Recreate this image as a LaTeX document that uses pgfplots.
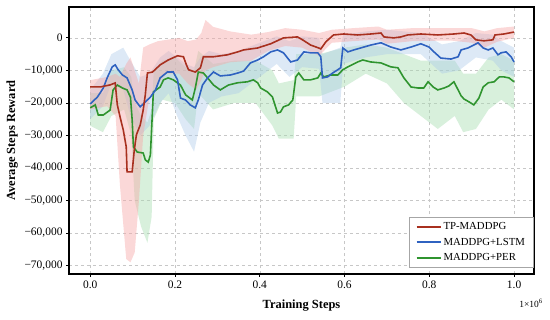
\documentclass[border=0pt]{standalone}
\usepackage{pgfplots}
\pgfplotsset{compat=1.18}
\usepackage{pgfplotstable}
\usepgfplotslibrary{fillbetween}
\usepackage{fontspec}
\setmainfont{Liberation Serif}
\definecolor{cred}{HTML}{A8301F}
\definecolor{cblue}{HTML}{2F62C0}
\definecolor{cgreen}{HTML}{2F942F}
\definecolor{bred}{HTML}{F7A8A8}
\definecolor{bblue}{HTML}{A9C9E8}
\definecolor{bgreen}{HTML}{A9DDB2}

\pgfplotstableread{
x y
0.000 -15080
0.024 -15080
0.047 -14460
0.059 -13850
0.064 -20600
0.071 -24600
0.078 -28300
0.085 -33500
0.087 -41200
0.099 -41200
0.104 -34500
0.109 -29800
0.118 -26800
0.125 -22200
0.130 -17500
0.135 -10800
0.147 -10500
0.165 -8300
0.184 -6800
0.206 -5500
0.220 -5800
0.227 -8300
0.232 -9800
0.248 -10500
0.260 -9200
0.267 -5800
0.291 -5800
0.324 -5200
0.348 -4300
0.362 -3700
0.395 -3100
0.426 -1800
0.456 0
0.489 300
0.501 -600
0.520 -2200
0.539 -3100
0.544 -3400
0.556 -1200
0.574 900
0.598 1200
0.631 900
0.662 1200
0.686 1500
0.693 300
0.716 0
0.733 300
0.749 900
0.780 1200
0.820 900
0.858 1200
0.882 1500
0.898 900
0.910 -600
0.929 -900
0.950 -600
0.955 900
0.976 1200
1.000 1800
}\linered

\pgfplotstableread{
x y
0.000 -20300
0.017 -18200
0.031 -15400
0.040 -12300
0.052 -8900
0.059 -8300
0.066 -9800
0.076 -11400
0.087 -12300
0.099 -16000
0.106 -19100
0.118 -21200
0.130 -19700
0.142 -18200
0.154 -16000
0.165 -12300
0.182 -10500
0.196 -10500
0.206 -12900
0.213 -18500
0.225 -19100
0.236 -20600
0.248 -21500
0.255 -19100
0.265 -14500
0.277 -12300
0.291 -10500
0.307 -11700
0.331 -11400
0.348 -10800
0.362 -10200
0.378 -7700
0.395 -6800
0.409 -5800
0.426 -4300
0.442 -3700
0.456 -4600
0.473 -7400
0.489 -6800
0.504 -4300
0.520 -4600
0.537 -4600
0.544 -5800
0.548 -12300
0.560 -12000
0.572 -10800
0.584 -9800
0.591 -9200
0.596 -3100
0.608 -4300
0.622 -3700
0.638 -3100
0.662 -2200
0.686 -1500
0.709 -2800
0.733 -3700
0.757 -2800
0.780 -1800
0.799 -2800
0.811 -4300
0.827 -6200
0.851 -6500
0.868 -5800
0.875 -3700
0.891 -3100
0.905 -2200
0.915 -1500
0.927 -3100
0.939 -3700
0.950 -3100
0.962 -5200
0.969 -4600
0.981 -4300
0.993 -5800
1.000 -7400
}\lineblue

\pgfplotstableread{
x y
0.000 -21500
0.012 -20600
0.019 -23700
0.031 -23700
0.047 -22200
0.054 -16000
0.064 -14500
0.076 -15400
0.087 -16000
0.095 -18200
0.099 -25200
0.102 -33500
0.111 -35100
0.125 -35400
0.130 -37500
0.137 -38200
0.142 -36000
0.147 -22200
0.149 -16600
0.165 -15100
0.173 -12900
0.184 -12300
0.196 -12900
0.213 -14500
0.225 -17500
0.241 -19100
0.248 -15400
0.255 -10500
0.267 -10800
0.277 -12300
0.291 -14500
0.307 -16000
0.326 -14500
0.348 -13800
0.371 -13500
0.385 -12900
0.395 -13800
0.402 -15400
0.418 -16600
0.430 -18200
0.442 -23100
0.449 -22800
0.456 -21200
0.468 -20600
0.478 -19100
0.485 -12000
0.492 -10800
0.504 -12900
0.520 -12900
0.537 -12300
0.544 -10800
0.551 -12000
0.567 -11400
0.584 -11400
0.596 -9800
0.608 -8900
0.631 -7400
0.643 -6800
0.662 -7400
0.686 -7700
0.709 -8900
0.726 -9200
0.740 -12300
0.757 -15100
0.773 -15400
0.787 -15400
0.797 -13500
0.809 -15100
0.820 -16000
0.835 -15400
0.846 -14800
0.858 -13500
0.868 -16000
0.875 -17800
0.882 -18800
0.894 -19700
0.905 -20600
0.917 -18500
0.927 -15100
0.939 -13800
0.953 -13500
0.965 -12000
0.976 -12000
0.988 -12300
1.000 -13500
}\linegreen

\pgfplotstableread{
x hi lo
0.000 -13000 -22000
0.040 -12000 -21000
0.060 -11000 -24000
0.070 -12000 -45000
0.085 -8000 -68000
0.095 -6000 -69000
0.105 -10000 -66000
0.115 -14000 -50000
0.125 -3000 -30000
0.140 -2000 -18000
0.160 -1000 -14000
0.180 -600 -11000
0.210 0 -11000
0.230 -1000 -14000
0.250 -500 -16000
0.262 1500 -13000
0.272 5500 -10000
0.290 3400 -9000
0.330 2000 -7500
0.380 1000 -7000
0.420 1800 -4000
0.460 3000 -2500
0.500 2500 -3000
0.540 1500 -5500
0.570 2500 -1500
0.620 3000 -1000
0.680 3500 -500
0.700 2500 -1800
0.760 3000 -1000
0.850 3000 -800
0.900 3000 -1500
0.930 2000 -3000
0.960 3000 -1200
1.000 3500 0
}\bandred

\pgfplotstableread{
x hi lo
0.000 -16000 -25000
0.030 -11000 -21000
0.050 -5000 -14000
0.078 -3000 -16000
0.095 -7000 -24000
0.118 -12000 -30000
0.140 -11000 -27000
0.165 -6000 -20000
0.185 -4000 -17000
0.205 -6000 -24000
0.225 -8000 -30000
0.245 -9000 -35000
0.260 -6000 -26000
0.280 -4000 -20000
0.310 -5000 -18000
0.350 -4000 -17000
0.400 -1500 -12000
0.440 500 -8000
0.470 -1000 -12000
0.500 500 -9000
0.540 0 -9500
0.548 -5000 -20000
0.590 -3000 -20000
0.597 1000 -8000
0.650 2000 -6000
0.700 2500 -5000
0.780 1500 -5000
0.830 -2000 -11000
0.870 -1000 -10000
0.910 1500 -6000
0.950 1000 -7000
0.970 -1000 -10000
1.000 -3000 -12000
}\bandblue

\pgfplotstableread{
x hi lo
0.000 -17000 -27000
0.030 -17000 -29000
0.050 -10000 -24000
0.080 -9000 -22000
0.097 -12000 -30000
0.105 -20000 -50000
0.120 -24000 -58000
0.135 -26000 -63000
0.145 -22000 -55000
0.150 -10000 -25000
0.170 -7000 -19000
0.200 -6000 -20000
0.225 -9000 -25000
0.245 -10000 -28000
0.255 -4000 -17000
0.290 -8000 -22000
0.340 -7000 -20000
0.390 -7000 -20000
0.430 -10000 -27000
0.445 -14000 -31000
0.480 -13000 -31000
0.486 -5000 -18000
0.540 -5000 -18000
0.600 -3000 -15000
0.650 -2000 -11000
0.700 -3000 -14000
0.740 -5000 -20000
0.780 -7000 -24000
0.820 -7000 -28000
0.860 -7000 -24000
0.880 -11000 -29000
0.910 -11000 -28000
0.940 -6000 -22000
0.970 -5000 -19000
1.000 -7000 -22000
}\bandgreen

\begin{document}
\begin{tikzpicture}
\begin{axis}[
  at={(69bp,46bp)}, anchor=south west,
  width=465bp, height=267bp, scale only axis,
  xmin=-0.05, xmax=1.047, ymin=-72600, ymax=9500,
  scaled y ticks=false, scaled x ticks=false,
  xtick={0,0.2,0.4,0.6,0.8,1.0},
  xticklabels={0.0,0.2,0.4,0.6,0.8,1.0},
  ytick={-70000,-60000,-50000,-40000,-30000,-20000,-10000,0},
  yticklabels={{−70,000},{−60,000},{−50,000},{−40,000},{−30,000},{−20,000},{−10,000},{0}},
  xtick pos=bottom, ytick pos=left,
  tick align=outside, major tick length=3bp,
  tick style={black, line width=0.8pt},
  axis line style={black, line width=1.4pt},
  grid=major,
  major grid style={dashed, draw=black!22, line width=0.5pt},
  tick label style={font=\fontsize{11.5}{13}\selectfont},
  xlabel={\textbf{Training Steps}},
  ylabel={\textbf{Average Steps Reward}},
  label style={font=\fontsize{12.5}{14}\selectfont},
  xlabel style={at={(axis description cs:0.5,-0.085)}, anchor=north},
  ylabel style={at={(axis description cs:-0.122,0.5)}, anchor=center},
  legend style={at={(axis description cs:0.998,0.025)}, anchor=south east,
    font=\fontsize{10.8}{12}\selectfont, draw=black!35, fill=white,
    row sep=3pt, inner xsep=6pt, inner ysep=3pt,
    /tikz/every even column/.append style={column sep=4pt}},
  legend image code/.code={\draw[#1, line width=2bp] (0bp,0bp) -- (24bp,0bp);},
  legend cell align=left,
  reverse legend,
]
\addplot[draw=none, name path=gh, forget plot] table[x=x,y=hi]{\bandgreen};
\addplot[draw=none, name path=gl, forget plot] table[x=x,y=lo]{\bandgreen};
\addplot[fill=bgreen, fill opacity=0.45, draw=none, forget plot] fill between[of=gh and gl];

\addplot[draw=none, name path=bh, forget plot] table[x=x,y=hi]{\bandblue};
\addplot[draw=none, name path=bl, forget plot] table[x=x,y=lo]{\bandblue};
\addplot[fill=bblue, fill opacity=0.4, draw=none, forget plot] fill between[of=bh and bl];

\addplot[draw=none, name path=rh, forget plot] table[x=x,y=hi]{\bandred};
\addplot[draw=none, name path=rl, forget plot] table[x=x,y=lo]{\bandred};
\addplot[fill=bred, fill opacity=0.45, draw=none, forget plot] fill between[of=rh and rl];

\addplot[color=cgreen, line width=1.6pt] table[x=x,y=y]{\linegreen};
\addlegendentry{MADDPG+PER}
\addplot[color=cblue, line width=1.6pt] table[x=x,y=y]{\lineblue};
\addlegendentry{MADDPG+LSTM}
\addplot[color=cred, line width=1.6pt] table[x=x,y=y]{\linered};
\addlegendentry{TP-MADDPG}
\end{axis}
\node[anchor=center, font=\fontsize{9.5}{10}\selectfont, inner sep=0pt] at (531bp,17bp) {1×10\textsuperscript{6}};
\pgfresetboundingbox
\path (0,0) rectangle (550bp,320bp);
\end{tikzpicture}
\end{document}
